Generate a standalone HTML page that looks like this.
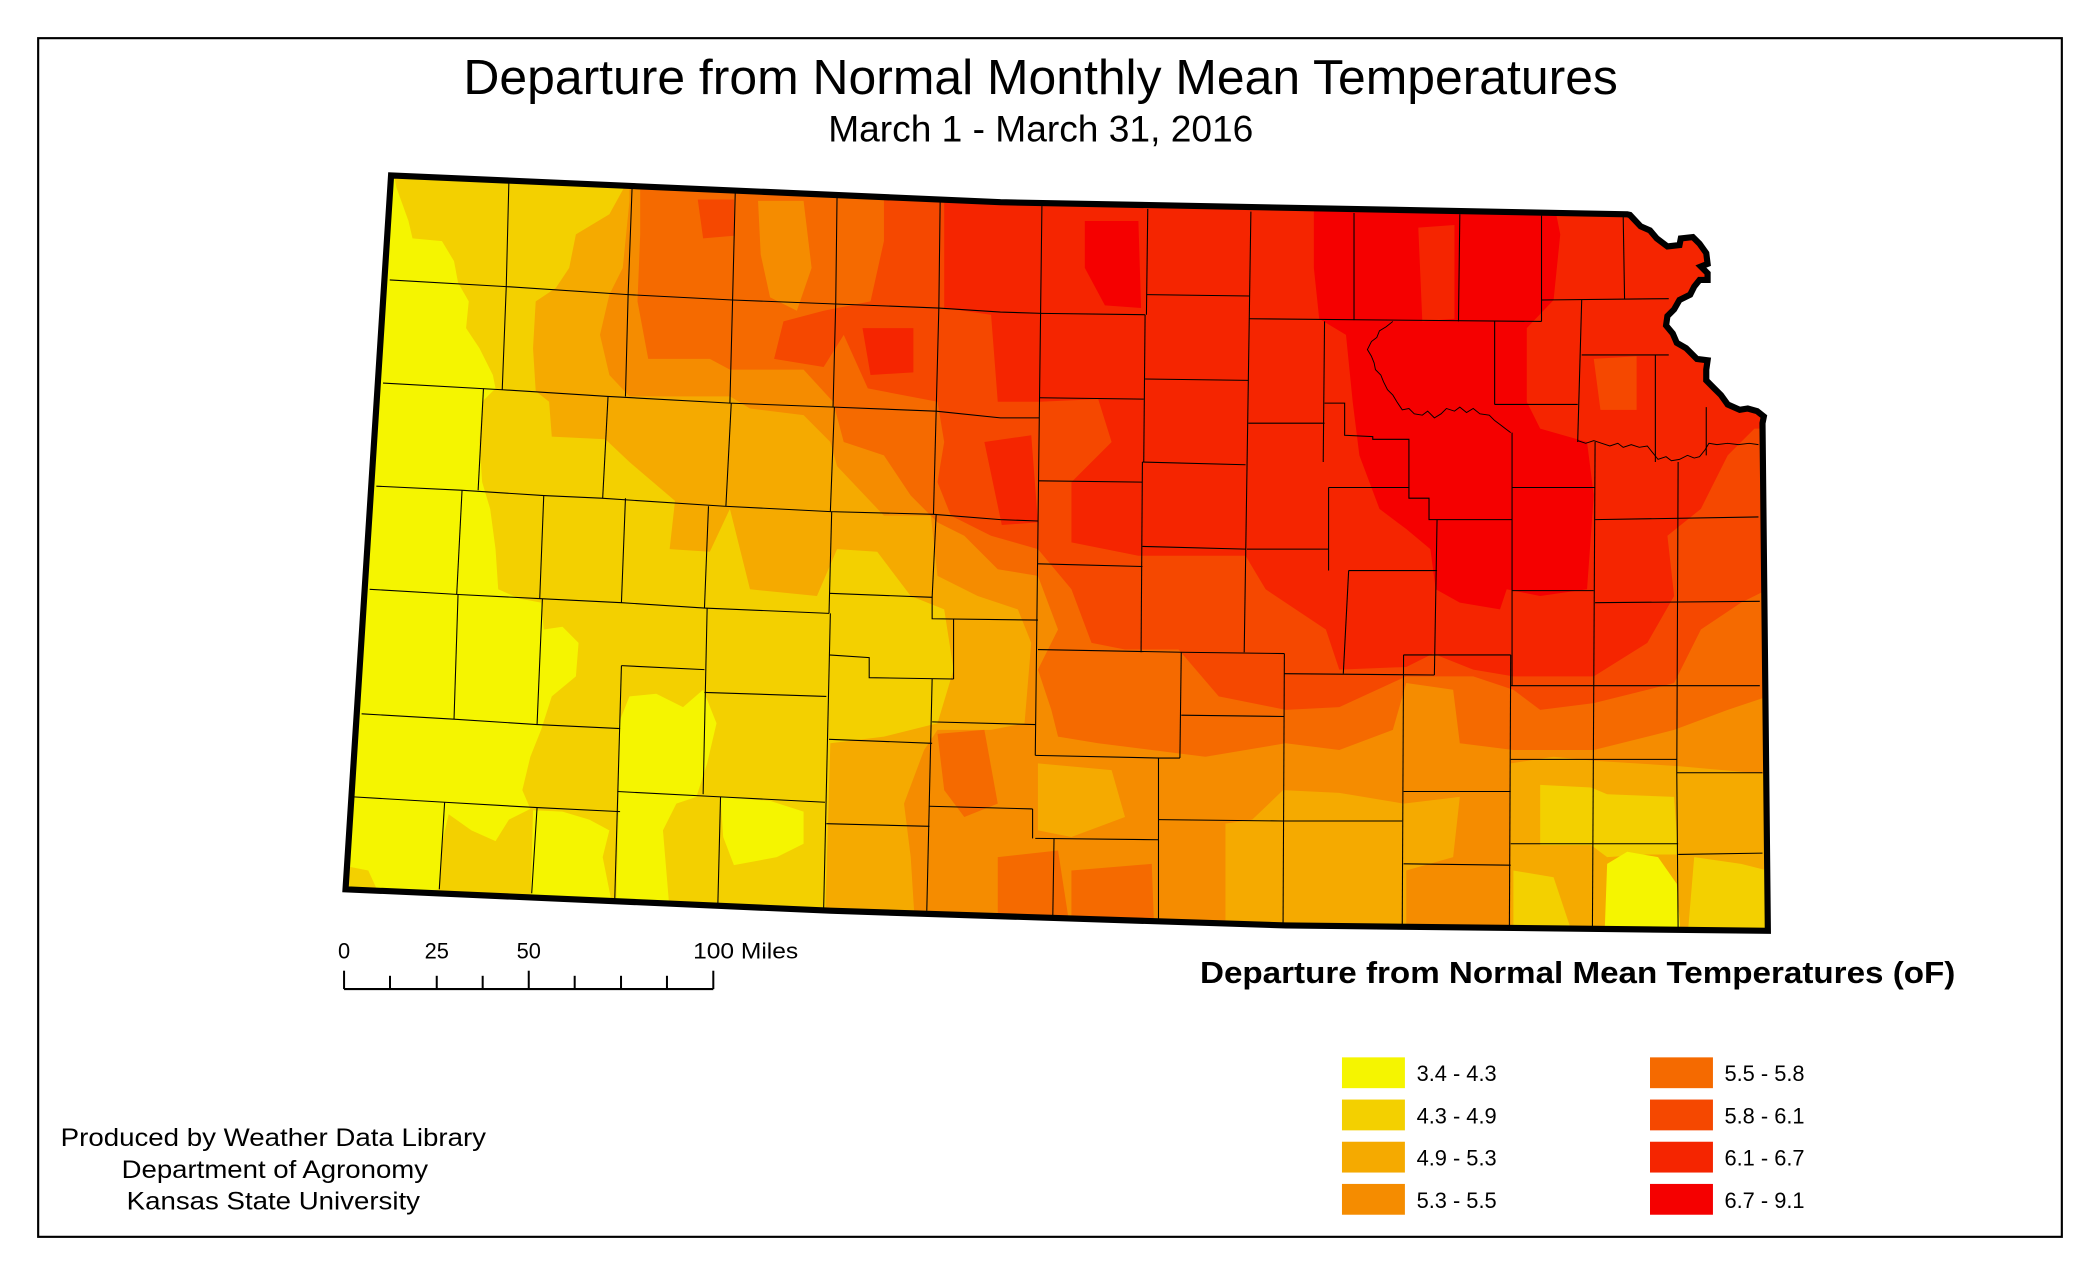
<!DOCTYPE html>
<html>
<head>
<meta charset="utf-8">
<style>
html,body{margin:0;padding:0;background:#fff;}
svg{display:block;}
text{font-family:"Liberation Sans",Arial,sans-serif;fill:#000;}
</style>
</head>
<body>
<svg width="2100" height="1275" viewBox="0 0 1568 952" preserveAspectRatio="none" xmlns="http://www.w3.org/2000/svg">
<defs>
<clipPath id="ks">
<path d="M292,131 L747,151 L1215,160 L1217,160.5 L1225,169 L1232,172 L1237,178 L1245,184 L1254,183 L1255,178 L1264,177 L1269,182 L1274,189 L1275,197 L1270,199 L1275,204 L1275,209 L1269,209 L1265,214 L1262,220 L1254,224 L1250,231 L1245,236 L1244,243 L1249,249 L1252,256 L1259,260 L1267,268 L1275,269 L1274,276 L1274,284 L1280,290 L1285,295 L1290,302 L1299,306 L1305,305 L1312,307 L1317,311 L1316,316 L1320,695 L960,691 L620,680 L258,664 Z"/>
</clipPath>
</defs>
<rect x="0" y="0" width="1568" height="952" fill="#fff"/>
<rect x="28.5" y="28.5" width="1511" height="895" fill="none" stroke="#000" stroke-width="1.6"/>

<text x="346" y="70.2" font-size="37" textLength="862" lengthAdjust="spacingAndGlyphs">Departure from Normal Monthly Mean Temperatures</text>
<text x="618.4" y="105.8" font-size="27.5" textLength="317.4" lengthAdjust="spacingAndGlyphs">March 1 - March 31, 2016</text>

<g clip-path="url(#ks)">
<!-- base c2 -->
<rect x="200" y="100" width="1200" height="650" fill="#F3D000"/>
<!-- yellow west -->
<g fill="#F5F500">
<polygon points="230,120 292,120 296,140 305,165 308,178 330,180 339,195 342,211 350,225 348,245 358,260 368,280 370,290 360,300 358,330 360,360 366,380 370,410 372,440 388,447 404,450 406,470 420,468 432,480 430,505 412,520 404,545 396,565 390,590 396,604 380,612 370,628 352,620 335,608 330,630 328,664 230,680"/>
<polygon points="398,605 420,606 440,612 455,620 450,640 458,680 396,680"/>
<polygon points="462,540 470,520 490,518 510,528 525,515 535,540 528,570 520,595 505,600 495,620 500,680 460,680 462,600"/>
<polygon points="538,595 575,598 600,606 600,630 580,640 548,646 540,625"/>
</g>
<polygon fill="#F3D000" points="250,645 275,650 285,672 250,672"/>
<!-- c3 -->
<polygon fill="#F5AA00" points="466,115 466,140 455,160 430,175 425,200 415,215 400,225 398,260 400,292 410,300 412,326 452,328 470,345 504,374 500,410 530,412 545,380 560,440 610,445 625,410 655,412 680,445 705,455 712,500 700,540 660,550 620,555 615,720 1400,720 1400,115"/>
<!-- c4 -->
<polygon fill="#F58C00" points="470,115 470,150 465,200 455,220 448,250 455,280 470,296 545,296 560,305 600,310 620,330 625,348 660,385 695,385 700,430 730,445 760,455 770,480 765,540 740,545 700,545 690,560 675,600 680,640 685,720 1400,720 1400,115"/>
<!-- c5 -->
<polygon fill="#F56A00" points="478,115 478,175 476,225 484,268 530,268 545,276 600,276 622,300 630,330 660,340 680,370 700,390 720,400 745,425 775,430 790,470 775,500 785,530 790,550 820,555 860,560 900,565 960,555 1000,560 1040,545 1050,510 1085,515 1090,555 1130,560 1190,560 1250,545 1290,530 1320,520 1400,520 1400,115"/>
<g fill="#F56A00">
<polygon points="700,548 735,545 745,600 720,610 705,590"/>
<polygon points="745,640 790,635 800,700 745,700"/>
<polygon points="800,650 860,645 862,700 800,700"/>
</g>
<polygon fill="#F58C00" points="566,150 600,150 606,200 595,232 575,222 568,190"/>
<!-- c6 -->
<polygon fill="#F54800" points="660,115 660,180 650,225 615,232 585,240 578,268 615,274 630,250 648,290 700,300 705,330 700,360 710,385 740,400 775,410 800,440 815,480 840,485 880,485 910,520 960,530 1000,528 1050,505 1100,505 1130,515 1150,530 1190,525 1250,510 1270,470 1300,450 1320,440 1400,440 1400,115"/>
<polygon fill="#F54800" points="521,149 548,149 548,176 525,178"/>
<!-- c7 -->
<polygon fill="#F52500" points="705,115 705,230 740,235 745,300 776,300 820,298 830,330 810,350 800,360 800,405 850,415 930,415 945,440 990,470 1000,500 1050,498 1070,488 1100,500 1130,505 1190,505 1230,480 1250,445 1245,400 1270,380 1290,340 1310,320 1400,320 1400,115"/>
<g fill="#F52500">
<polygon points="644,245 682,245 682,278 650,280"/>
<polygon points="735,330 770,325 775,390 748,392"/>
</g>
<polygon fill="#F54800" points="1190,268 1222,266 1222,306 1195,306"/>
<!-- c8 -->
<g fill="#F50000">
<polygon points="981,150 1160,150 1165,175 1160,224 1140,245 1140,300 1150,320 1185,330 1190,370 1185,440 1150,445 1125,440 1120,455 1090,450 1072,440 1068,410 1050,395 1030,380 1015,340 1010,300 1005,250 985,238 981,200"/>
<polygon points="810,165 850,165 852,230 825,228 810,200"/>
</g>
<polygon fill="#F52500" points="1059,170 1086,168 1086,238 1062,240"/>
<!-- SE lower values -->
<g fill="#F5AA00">
<polygon points="915,615 935,612 958,590 1000,592 1048,600 1090,595 1085,640 1050,650 1050,700 915,700"/>
<polygon points="1128,570 1160,565 1190,568 1253,572 1320,578 1320,700 1128,700"/>
<polygon points="775,570 830,575 840,610 800,625 775,620"/>
</g>
<g fill="#F3D000">
<polygon points="1150,586 1188,588 1200,593 1250,595 1253,638 1230,638 1200,640 1188,631 1150,631"/>
<polygon points="1265,640 1300,645 1320,650 1320,700 1260,700"/>
<polygon points="1130,650 1160,655 1175,700 1130,700"/>
</g>
<polygon fill="#F5F500" points="1200,645 1215,636 1238,640 1252,660 1255,700 1198,700"/>

<!-- county lines -->
<g fill="none" stroke="#000" stroke-width="0.8">
<polyline points="291,209 378,214 469,220 547,224 624,227 701,230 747,233 778,234 855,235"/>
<polyline points="856,220 933,221"/>
<polyline points="933,238 1151,240"/>
<polyline points="1151,224 1246,223"/>
<polyline points="286,286 375,291 454,296 545,301 623,304 699,307 747,312 776,312"/>
<polyline points="776,297 854,298"/>
<polyline points="855,283 932,284"/>
<polyline points="932,316 989,316"/>
<polyline points="989,301 1004,301 1004,325 1025,326 1025,328 1052,328 1052,364"/>
<polyline points="1116,302 1178,302"/>
<polyline points="1181,265 1246,265"/>
<polyline points="281,363 344,366 406,370 449,372 541,378 620,382 697,384 747,388 775,389"/>
<polyline points="775,359 853,360"/>
<polyline points="853,345 930,347"/>
<polyline points="931,410 992,410"/>
<polyline points="992,364 1052,364 1052,372 1067,372 1067,388 1129,388"/>
<polyline points="1129,364 1191,364"/>
<polyline points="1191,388 1313,386"/>
<polyline points="276,440 344,444 404,447 464,450 526,454 619,458"/>
<polyline points="619,443 696,446 696,462 775,463"/>
<polyline points="775,421 853,423"/>
<polyline points="853,408 930,410"/>
<polyline points="1007,426 1073,426"/>
<polyline points="1129,441 1190,441"/>
<polyline points="1191,450 1314,449"/>
<polyline points="270,533 339,537 401,541 463,544"/>
<polyline points="464,497 526,500"/>
<polyline points="526,517 617,520"/>
<polyline points="619,489 649,491 649,506 712,507"/>
<polyline points="712,462 712,507"/>
<polyline points="619,552 696,555"/>
<polyline points="696,539 773,541"/>
<polyline points="775,485 882,487 959,488"/>
<polyline points="959,503 1071,504"/>
<polyline points="1048,489 1128,489"/>
<polyline points="1128,512 1314,512"/>
<polyline points="264,595 332,599 401,603 463,606"/>
<polyline points="461,591 538,595 616,599"/>
<polyline points="617,615 694,617"/>
<polyline points="694,602 771,604"/>
<polyline points="773,564 866,566 881,566"/>
<polyline points="882,534 959,535"/>
<polyline points="773,626 865,627"/>
<polyline points="865,612 958,613 1047,613"/>
<polyline points="1048,591 1128,591"/>
<polyline points="1048,645 1128,646"/>
<polyline points="1128,567 1252,567"/>
<polyline points="1128,630 1253,630"/>
<polyline points="1252,577 1316,577"/>
<polyline points="1253,638 1316,637"/>
<!-- verticals -->
<polyline points="380,134 378,214 375,291"/>
<polyline points="472,139 469,220 467,296"/>
<polyline points="549,143 547,224 545,301"/>
<polyline points="625,146 624,227 622,304"/>
<polyline points="702,149 701,230 699,307"/>
<polyline points="778,151 776,312 773,564"/>
<polyline points="857,156 856,235"/>
<polyline points="855,235 854,345"/>
<polyline points="934,158 929,487"/>
<polyline points="1011,159 1011,239"/>
<polyline points="1090,160 1089,240"/>
<polyline points="1151,161 1151,240"/>
<polyline points="1212,162 1213,223"/>
<polyline points="989,240 988,345"/>
<polyline points="1116,240 1116,302"/>
<polyline points="1181,224 1178,330"/>
<polyline points="361,290 357,366"/>
<polyline points="454,296 450,372"/>
<polyline points="546,301 542,378"/>
<polyline points="623,304 620,382"/>
<polyline points="699,307 697,384"/>
<polyline points="1129,323 1129,512"/>
<polyline points="1191,330 1189,694"/>
<polyline points="1236,265 1236,345"/>
<polyline points="1253,345 1252,577 1253,695"/>
<polyline points="1274,304 1274,340"/>
<polyline points="992,364 992,426"/>
<polyline points="345,366 341,444"/>
<polyline points="406,370 403,447"/>
<polyline points="467,372 464,450"/>
<polyline points="529,378 526,454"/>
<polyline points="621,382 619,458"/>
<polyline points="699,384 696,446"/>
<polyline points="853,345 852,487"/>
<polyline points="1007,426 1003,503"/>
<polyline points="1073,388 1071,504"/>
<polyline points="342,444 339,537"/>
<polyline points="405,447 401,541"/>
<polyline points="528,454 525,593"/>
<polyline points="620,458 615,678"/>
<polyline points="696,507 692,680"/>
<polyline points="882,487 881,566"/>
<polyline points="959,488 958,694"/>
<polyline points="1048,489 1047,694"/>
<polyline points="1128,489 1127,694"/>
<polyline points="332,599 328,664"/>
<polyline points="401,603 397,667"/>
<polyline points="464,497 459,672"/>
<polyline points="538,595 536,675"/>
<polyline points="865,566 865,690"/>
<polyline points="787,626 786,690"/>
<polyline points="771,604 771,626"/>
</g>
<!-- rivers -->
<g fill="none" stroke="#000" stroke-width="0.7">
<polyline points="1040,240 1035,244 1030,247 1028,252 1024,255 1021,261 1024,266 1026,271 1027,276 1031,280 1033,285 1036,291 1040,295 1043,300 1047,306 1052,305 1056,309 1062,310 1066,307 1071,312 1076,309 1080,305 1086,307 1090,304 1095,308 1100,305 1105,309 1112,310 1116,314 1120,317 1124,320 1128,323"/>
<polyline points="1178,329 1184,331 1190,329 1196,331 1202,333 1208,331 1212,334 1218,332 1224,334 1230,333 1234,338 1238,343 1244,341 1248,344 1254,343 1260,340 1265,342 1269,341 1273,336 1276,331 1282,332 1290,331 1298,332 1306,331 1313,332"/>
</g>
</g>
<!-- Kansas outline -->
<path d="M292,131 L747,151 L1215,160 L1217,160.5 L1225,169 L1232,172 L1237,178 L1245,184 L1254,183 L1255,178 L1264,177 L1269,182 L1274,189 L1275,197 L1270,199 L1275,204 L1275,209 L1269,209 L1265,214 L1262,220 L1254,224 L1250,231 L1245,236 L1244,243 L1249,249 L1252,256 L1259,260 L1267,268 L1275,269 L1274,276 L1274,284 L1280,290 L1285,295 L1290,302 L1299,306 L1305,305 L1312,307 L1317,311 L1316,316 L1320,695 L960,691 L620,680 L258,664 Z" fill="none" stroke="#000" stroke-width="4.6" stroke-linejoin="miter"/>

<!-- scale bar -->
<g stroke="#000" stroke-width="1.5" fill="none">
<line x1="256.9" y1="738.5" x2="532.6" y2="738.5"/>
<line x1="256.9" y1="738.5" x2="256.9" y2="724.8"/>
<line x1="291.2" y1="738.5" x2="291.2" y2="728.6"/>
<line x1="326.1" y1="738.5" x2="326.1" y2="728.6"/>
<line x1="360.4" y1="738.5" x2="360.4" y2="728.6"/>
<line x1="394.8" y1="738.5" x2="394.8" y2="724.8"/>
<line x1="429.1" y1="738.5" x2="429.1" y2="728.6"/>
<line x1="463.7" y1="738.5" x2="463.7" y2="728.6"/>
<line x1="498.0" y1="738.5" x2="498.0" y2="728.6"/>
<line x1="532.6" y1="738.5" x2="532.6" y2="724.8"/>
</g>
<text x="256.9" y="715.6" font-size="16.3" text-anchor="middle">0</text>
<text x="326.1" y="715.6" font-size="16.3" text-anchor="middle">25</text>
<text x="394.8" y="715.6" font-size="16.3" text-anchor="middle">50</text>
<text x="517.5" y="715.6" font-size="16.3" textLength="78.5" lengthAdjust="spacingAndGlyphs">100 Miles</text>

<!-- legend -->
<text x="896" y="734" font-size="22.5" font-weight="bold" textLength="564" lengthAdjust="spacingAndGlyphs">Departure from Normal Mean Temperatures (oF)</text>
<rect x="1002" y="789.5" width="47" height="23" fill="#F5F500"/>
<rect x="1002" y="821" width="47" height="23" fill="#F3D000"/>
<rect x="1002" y="852.5" width="47" height="23" fill="#F5AA00"/>
<rect x="1002" y="884" width="47" height="23" fill="#F58C00"/>
<rect x="1232" y="789.5" width="47" height="23" fill="#F56A00"/>
<rect x="1232" y="821" width="47" height="23" fill="#F54800"/>
<rect x="1232" y="852.5" width="47" height="23" fill="#F52500"/>
<rect x="1232" y="884" width="47" height="23" fill="#F50000"/>
<g font-size="16.3">
<text x="1057.7" y="807.3">3.4 - 4.3</text>
<text x="1057.7" y="838.8">4.3 - 4.9</text>
<text x="1057.7" y="870.3">4.9 - 5.3</text>
<text x="1057.7" y="901.8">5.3 - 5.5</text>
<text x="1287.6" y="807.3">5.5 - 5.8</text>
<text x="1287.6" y="838.8">5.8 - 6.1</text>
<text x="1287.6" y="870.3">6.1 - 6.7</text>
<text x="1287.6" y="901.8">6.7 - 9.1</text>
</g>

<!-- credits -->
<text x="45.3" y="855.5" font-size="18.8" textLength="317.6" lengthAdjust="spacingAndGlyphs">Produced by Weather Data Library</text>
<text x="90.8" y="879.4" font-size="18.8" textLength="228.8" lengthAdjust="spacingAndGlyphs">Department of Agronomy</text>
<text x="94.6" y="903" font-size="18.8" textLength="219" lengthAdjust="spacingAndGlyphs">Kansas State University</text>
</svg>
</body>
</html>
